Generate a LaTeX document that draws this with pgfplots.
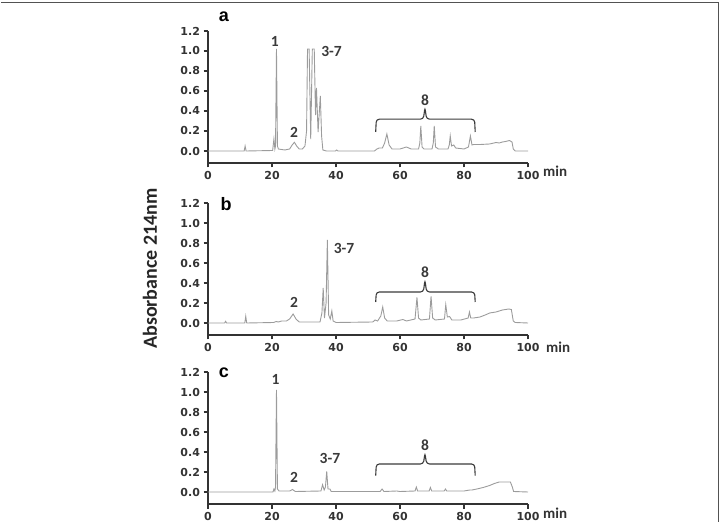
\documentclass[border=0pt]{standalone}
\usepackage{fontspec}
\setmainfont{Carlito}
\newfontfamily\ticfont{DejaVu Sans}
\newfontfamily\panelfont{Liberation Sans}
\usepackage{pgfplots}
\pgfplotsset{compat=1.18}
\definecolor{trace}{HTML}{9C9C9C}
\definecolor{axc}{HTML}{333333}
\definecolor{annc}{HTML}{3A3A3A}
\pgfplotsset{chrom/.style={scale only axis, width=320pt, height=132pt,
  xmin=0, xmax=100, ymin=-0.12, ymax=1.2,
  axis lines=left, axis line style={-, axc, line width=1.2pt},
  xtick={0,20,40,60,80,100}, ytick={0,0.2,0.4,0.6,0.8,1.0,1.2},
  tick align=outside, major tick length=4.5pt,
  tick style={axc, line width=1.2pt},
  ticklabel style={font=\ticfont\bfseries\fontsize{11}{12}\selectfont, text=axc},
  /pgf/number format/assume math mode=true,
  yticklabel style={/pgf/number format/fixed, /pgf/number format/fixed zerofill, /pgf/number format/precision=1},
  clip=false, anchor=south west}}
\tikzset{annot/.style={font=\bfseries\fontsize{15.5}{17}\selectfont, text=annc},
  brk/.style={annc, line width=1.1pt, rounded corners=3pt},
  tr/.style={trace, line width=0.9pt}}
\begin{document}
\begin{tikzpicture}[x=1pt,y=1pt]
\path[use as bounding box] (0,0) rectangle (720,522);
\draw[axc!85, line width=1.3pt] (1,519.5) -- (718.5,519.5) -- (718.5,0);
% Panel a
\begin{axis}[chrom, at={(208pt,359pt)}]
\addplot[tr] coordinates {(0,0) (11.3,0) (11.6,0.05) (11.9,0) (20.2,0.005) (20.6,0.12) (20.9,0.02) (21.1,0.05) (21.4,1.02) (21.7,0.05) (22.0,0.02) (24,0.01) (25.5,0.02) (26.3,0.06) (27.0,0.087) (27.7,0.05) (28.5,0.02) (29.5,0.02) (30.3,0.05) (30.8,0.2) (31.1,1.02) (31.6,1.02) (32.1,0.12) (32.6,1.02) (33.2,1.02) (33.6,0.36) (33.9,0.63) (34.4,0.19) (35.1,0.55) (35.5,0.15) (35.9,0.01) (37,0) (39.8,0) (40.2,0.01) (40.6,0) (52,0) (52.8,0.02) (53.5,0.03) (54.5,0.03) (55.2,0.08) (55.9,0.17) (56.6,0.06) (57.5,0.02) (60,0.02) (62,0.04) (63.5,0.02) (65.8,0.02) (66.2,0.08) (66.5,0.25) (66.9,0.04) (67.5,0.02) (70.0,0.02) (70.4,0.08) (70.7,0.25) (71.1,0.04) (72,0.02) (75.0,0.02) (75.4,0.06) (75.7,0.15) (76.1,0.05) (76.8,0.06) (77.4,0.03) (80,0.02) (81.4,0.04) (82.0,0.15) (82.5,0.06) (83,0.065) (85,0.065) (88,0.07) (90,0.085) (91,0.08) (92,0.09) (93,0.095) (94.2,0.105) (95.0,0.09) (95.4,0.02) (96,0) (100,0)};
\node[annot] at (axis cs:20.9,1.10) {1};
\node[annot] at (axis cs:26.9,0.19) {2};
\node[annot] at (axis cs:38.6,1.0) {3-7};
\node[annot] at (axis cs:67.8,0.51) {8};
\draw[brk] (axis cs:52.4,0.19) -- (axis cs:52.6,0.318) -- (axis cs:67.3,0.318) -- (axis cs:67.8,0.435) -- (axis cs:68.3,0.318) -- (axis cs:83.3,0.318) -- (axis cs:83.5,0.19);
\end{axis}
% Panel b
\begin{axis}[chrom, at={(208pt,187pt)}]
\addplot[tr] coordinates {(0,0) (5.2,0) (5.5,0.017) (5.8,0) (11.5,0) (11.8,0.067) (12.1,0) (20.5,0.005) (21.3,0.015) (22,0.01) (23,0.02) (24.5,0.02) (25.5,0.04) (26.6,0.09) (27.5,0.04) (28.5,0.01) (35,0.01) (35.6,0.1) (36.0,0.35) (36.4,0.05) (36.9,0.2) (37.3,0.83) (37.7,0.08) (38.2,0.04) (38.7,0.12) (39.1,0.02) (40,0.005) (51.5,0.01) (52.2,0.03) (53,0.02) (54.0,0.07) (54.6,0.16) (55.2,0.05) (56,0.02) (59,0.02) (60.9,0.035) (62,0.02) (64.7,0.04) (65.3,0.257) (65.8,0.05) (66.5,0.03) (69.2,0.04) (69.7,0.267) (70.2,0.05) (71,0.03) (73.9,0.04) (74.3,0.183) (74.8,0.06) (75.5,0.065) (76.2,0.03) (79,0.03) (81.3,0.05) (81.7,0.11) (82.1,0.05) (83,0.05) (85,0.06) (87,0.085) (88,0.1) (90,0.11) (92,0.13) (94,0.14) (94.8,0.135) (95.4,0.02) (96,0.005) (100,0)};
\node[annot] at (axis cs:26.9,0.21) {2};
\node[annot] at (axis cs:42.5,0.75) {3-7};
\node[annot] at (axis cs:67.8,0.51) {8};
\draw[brk] (axis cs:52.4,0.21) -- (axis cs:52.6,0.31) -- (axis cs:67.3,0.31) -- (axis cs:67.8,0.43) -- (axis cs:68.3,0.31) -- (axis cs:83.3,0.31) -- (axis cs:83.5,0.21);
\end{axis}
% Panel c
\begin{axis}[chrom, at={(208pt,18pt)}]
\addplot[tr] coordinates {(0,0) (20.3,0) (20.6,0.03) (20.9,0.01) (21.1,0.05) (21.4,1.02) (21.7,0.03) (22.2,0.01) (25.5,0.01) (26.4,0.025) (27.3,0.005) (35.3,0.01) (35.8,0.073) (36.3,0.02) (36.7,0.05) (37.1,0.207) (37.5,0.03) (38.1,0.03) (38.5,0.005) (53.8,0.005) (54.4,0.03) (55,0.005) (59,0.01) (60,0.005) (64.7,0.01) (65.1,0.05) (65.5,0.01) (69.1,0.01) (69.5,0.045) (69.9,0.01) (73.8,0.01) (74.2,0.03) (74.6,0.01) (80,0.01) (81.8,0.02) (82.5,0.02) (84,0.03) (86,0.045) (88,0.065) (89.5,0.085) (91,0.1) (93,0.1) (94.5,0.1) (95.1,0.05) (95.5,0.005) (100,0)};
\node[annot] at (axis cs:21.1,1.13) {1};
\node[annot] at (axis cs:26.9,0.15) {2};
\node[annot] at (axis cs:38.1,0.34) {3-7};
\node[annot] at (axis cs:67.8,0.47) {8};
\draw[brk] (axis cs:52.4,0.163) -- (axis cs:52.6,0.28) -- (axis cs:67.3,0.28) -- (axis cs:67.8,0.39) -- (axis cs:68.3,0.28) -- (axis cs:83.3,0.28) -- (axis cs:83.5,0.163);
\end{axis}
% panel letters and labels
\node[font=\panelfont\bfseries\fontsize{18}{20}\selectfont] at (224,505) {a};
\node[font=\panelfont\bfseries\fontsize{18}{20}\selectfont] at (226,318) {b};
\node[font=\panelfont\bfseries\fontsize{18}{20}\selectfont] at (224,149) {c};
\node[font=\bfseries\fontsize{15}{17}\selectfont, text=axc, anchor=west, inner sep=0pt] at (543,350.3) {min};
\node[font=\bfseries\fontsize{15}{17}\selectfont, text=axc, anchor=west, inner sep=0pt] at (546,174.3) {min};
\node[font=\bfseries\fontsize{15}{17}\selectfont, text=axc, anchor=west, inner sep=0pt] at (543,8.7) {min};
\node[rotate=90, font=\bfseries\fontsize{20}{22}\selectfont, text=black!85] at (150,253.5) {Absorbance 214nm};
\end{tikzpicture}
\end{document}
